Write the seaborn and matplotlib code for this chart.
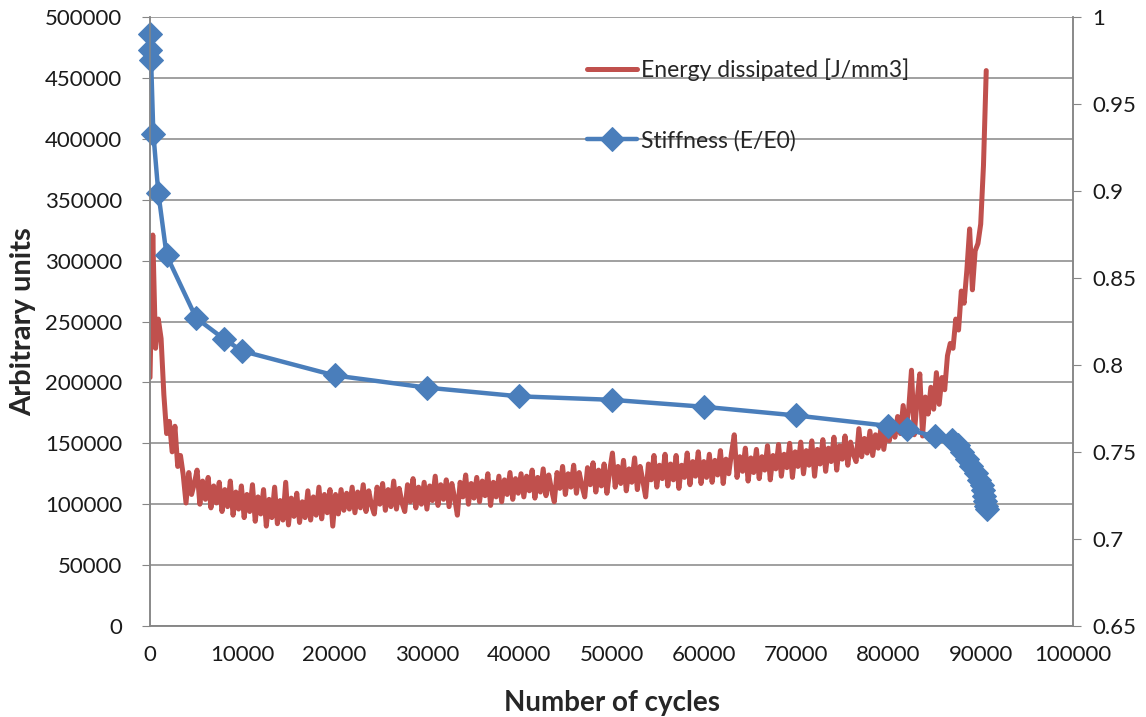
import numpy as np
import pandas as pd
import matplotlib
matplotlib.use("Agg")
import matplotlib.pyplot as plt
from matplotlib.ticker import MultipleLocator, FuncFormatter
import seaborn as sn

# energy dissipated, logged every 300 cycles (values in thousands)
energy_step = 300
energy_k = [
    204, 321, 228, 252, 236, 190, 158, 168, 143, 164, 131, 140, 124, 101, 126, 108, 117,
    # 5100 - 19800
    128, 100, 119, 104, 122, 97, 115, 101, 118, 94,
    112, 98, 119, 91, 110, 96, 115, 89, 108, 94,
    116, 86, 106, 92, 112, 82, 104, 89, 114, 84,
    103, 87, 118, 83, 105, 90, 109, 85, 102, 89,
    111, 87, 106, 91, 114, 88, 108, 93, 112, 82,
    # 20100 - 39900
    108, 92, 112, 95, 109, 96, 114, 93, 110, 97,
    116, 94, 111, 99, 92, 114, 100, 117, 95, 112,
    98, 119, 96, 113, 101, 94, 116, 102, 121, 97,
    114, 100, 118, 96, 115, 103, 123, 99, 116, 104,
    120, 98, 117, 105, 91, 118, 106, 124, 100, 117,
    105, 122, 102, 119, 107, 125, 99, 118, 106, 123,
    102, 120, 108, 126, 104, 121, 109,
    # 40200 - 59700
    125, 106, 123, 111, 128, 105, 122, 110, 129, 107,
    124, 112, 102, 126, 113, 131, 108, 125, 114, 132,
    109, 126, 115, 106, 130, 116, 134, 110, 128, 115,
    133, 109, 127, 142, 114, 131, 117, 136, 111, 129,
    118, 138, 112, 131, 119, 106, 133, 120, 140, 114,
    132, 121, 141, 115, 133, 120, 140, 113, 132, 122,
    142, 116, 135, 123, 143, 117,
    # 60000 - 79800
    135, 122, 141, 118, 136, 124, 144, 117, 137, 125,
    142, 157, 122, 139, 127, 146, 119, 138, 126, 145,
    121, 139, 128, 148, 120, 140, 129, 149, 123, 141,
    130, 150, 122, 143, 131, 151, 125, 144, 132, 152,
    123, 145, 133, 153, 127, 146, 135, 155, 128, 148,
    137, 156, 132, 151, 141, 135, 162, 139, 154, 142,
    160, 140, 157, 146, 163, 145, 161,
    # 80100 - 90600
    152, 168, 155, 172, 158, 181, 162, 178, 210, 157,
    185, 207, 156, 188, 174, 196, 178, 208, 182, 204,
    194, 222, 232, 228, 252, 243, 275, 265, 292, 326,
    276, 308, 314, 330, 378, 456,
]
energy_cycles = np.arange(len(energy_k)) * energy_step
energy = np.array(energy_k) * 1000

stiff_cycles = [0, 40, 120, 360, 900, 1800, 5000, 8000, 10000, 20000, 30000,
                40000, 50000, 60000, 70000, 80000, 82000, 85000, 86900, 87500,
                88000, 88500, 89000, 89500, 89800, 90100, 90300, 90400, 90450,
                90550, 90650]
stiffness = [0.990, 0.981, 0.975, 0.933, 0.899, 0.863, 0.827, 0.815, 0.808, 0.794,
             0.787, 0.782, 0.780, 0.776, 0.771, 0.765, 0.763, 0.759, 0.757, 0.754,
             0.750, 0.746, 0.742, 0.738, 0.734, 0.731, 0.728, 0.725, 0.722, 0.719,
             0.717]

red = "#C0504D"
blue = "#4A7EBB"
grey = "#868686"

sn.set_style("white")
plt.rcParams['font.family'] = ['Lato', 'DejaVu Sans']

fig = plt.figure(figsize=(11.46, 7.17), dpi=100)
ax = fig.add_axes([0.1309, 0.1269, 0.8054, 0.8494])
ax2 = ax.twinx()

sn.lineplot(x=energy_cycles, y=energy, ax=ax, color=red, linewidth=3.6,
            estimator=None, sort=False, label="Energy dissipated [J/mm3]", legend=False)
sn.lineplot(x=stiff_cycles, y=stiffness, ax=ax2, color=blue, linewidth=3.2,
            marker="D", markersize=12, markeredgecolor=blue, estimator=None,
            sort=False, label="Stiffness (E/E0)", legend=False, clip_on=False)

ax.set_xlim(0, 100000)
ax.set_ylim(0, 500000)
ax2.set_ylim(0.65, 1.0)
ax.xaxis.set_major_locator(MultipleLocator(10000))
ax.xaxis.set_minor_locator(MultipleLocator(5000))
ax.yaxis.set_major_locator(MultipleLocator(50000))
ax2.yaxis.set_major_locator(MultipleLocator(0.05))
ax2.yaxis.set_major_formatter(FuncFormatter(lambda v, p: f"{v:.2f}".rstrip("0").rstrip(".")))

ax.grid(axis="y", color=grey, linewidth=1.1)
ax.grid(axis="x", visible=False)
ax.set_axisbelow(True)

for a in (ax, ax2):
    a.spines["top"].set_visible(False)
    for s in ("left", "right", "bottom"):
        a.spines[s].set_color(grey)
        a.spines[s].set_linewidth(1.1)
    a.tick_params(which="both", direction="out", length=6, color=grey,
                  labelsize=16, labelcolor="#1a1a1a")
ax.tick_params(axis="y", pad=14)
ax2.tick_params(axis="y", pad=8)
ax.tick_params(axis="x", pad=8)

ax.set_xlabel("Number of cycles", fontsize=20, fontweight="bold", labelpad=18)
ax.set_ylabel("Arbitrary units", fontsize=21, fontweight="bold", labelpad=6)
ax2.set_ylabel("")

h1, l1 = ax.get_legend_handles_labels()
h2, l2 = ax2.get_legend_handles_labels()
fig.legend(h1 + h2, l1 + l2, loc="upper left", bbox_to_anchor=(0.494, 0.948),
           frameon=False, fontsize=16.5, labelspacing=2.15, handlelength=2.2,
           handletextpad=0.15)

fig.savefig("out.png", dpi=100)
